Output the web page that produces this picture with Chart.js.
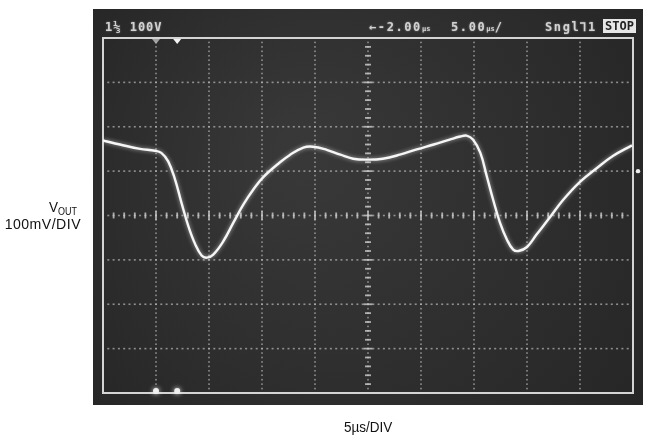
<!DOCTYPE html>
<html>
<head>
<meta charset="utf-8">
<script src="https://cdn.jsdelivr.net/npm/chart.js@4.4.1/dist/chart.umd.min.js"></script>
<style>
  body { margin: 0; background: #fff; }
  .scope { position: relative; width: 651px; height: 446px; }
  .lbl { position: absolute; font-family: 'Liberation Sans', Arial, sans-serif; color: #111; font-size: 15px; line-height: 16px; white-space: nowrap; }
  .osd { position: absolute; font-family: 'DejaVu Sans Mono', monospace; font-weight: bold; font-size: 12px; line-height: 14px; letter-spacing: 1.6px; color: #d2d2d2; white-space: nowrap; text-shadow: 0 0 2px rgba(255,255,255,0.45); }
  .osd small { font-size: 7px; letter-spacing: 0; }
</style>
</head>
<body>
<div class="scope">
  <canvas id="scope" width="651" height="446"></canvas>

  <div class="lbl" style="left:0; width:77px; top:199px; text-align:right; transform:scaleX(0.9); transform-origin:right;">V<span style="font-size:10px; position:relative; top:3px;">OUT</span></div>
  <div class="lbl" style="left:0; width:78px; top:216px; text-align:right; letter-spacing:0.5px; transform:scaleX(0.94); transform-origin:right;">100mV/DIV</div>
  <div class="lbl" style="left:344px; top:419px; transform:scaleX(0.9); transform-origin:left;">5µs/DIV</div>

  <div class="osd" style="left:105px; top:20px; letter-spacing:1px;">1⅓ 100V</div>
  <div class="osd" style="left:369px; top:20px;">←-2.00<small>µs</small></div>
  <div class="osd" style="left:451px; top:20px;">5.00<small>µs</small>/</div>
  <div class="osd" style="left:545px; top:20px;">Sngl⅂1</div>
  <div class="osd" style="left:603px; top:19px; background:#e6e6e6; color:#222; letter-spacing:0; padding:0 2px; text-shadow:none;">STOP</div>
</div>
<script>
// trace: time in µs (5µs/div), output in mV (100mV/div)
const timeUs = [0, 1.6, 3.5, 4.9, 5.5, 6.15, 6.8, 7.4, 8.05, 8.7, 9.3, 9.8, 10.4, 11.35, 12.3, 13.25,
  14.2, 15.1, 16.7, 17.6, 18.9, 19.8, 21.1, 22.4, 23.6, 25.0, 26.4, 28.0, 29.6, 31.2, 32.7, 33.7,
  34.3, 34.9, 35.6, 36.2, 36.8, 37.45, 38.1, 38.7, 39.2, 40.0, 40.9, 42.2, 43.4, 45.0, 46.6, 48.1, 49.9];
const voutMv = [169, 160, 150, 146, 141, 122, 81, 29, -24, -65, -90, -95, -88, -58, -16, 25,
  59, 86, 120, 136, 153, 155, 148, 137, 128, 126, 128, 137, 149, 160, 171, 178,
  180, 171, 141, 89, 36, -16, -54, -77, -80, -71, -43, -3, 35, 76, 107, 134, 158];

// graticule
const xDivUs = [0, 5, 10, 15, 20, 25, 30, 35, 40, 45, 50];
const yDivMv = [-400, -300, -200, -100, 0, 100, 200, 300, 400];
// markers on the screen edges
const cursorUs = [5.0, 7.0];
const trigLevelMv = 100;

const scopeScreen = {
  id: 'scopeScreen',
  beforeDraw(chart) {
    const { ctx, chartArea: a, scales: { x, y } } = chart;
    ctx.save();
    const g = ctx.createRadialGradient(300, 150, 20, 368, 215, 380);
    g.addColorStop(0, '#383838');
    g.addColorStop(1, '#242424');
    ctx.fillStyle = g;
    ctx.fillRect(a.left - 10, a.top - 29, a.width + 20, a.height + 41);

    const x0 = x.getPixelForValue(25), y0 = y.getPixelForValue(0);
    ctx.fillStyle = 'rgba(185,185,185,0.7)';
    // vertical dotted lines
    xDivUs.slice(1, -1).forEach(t => {
      const px = x.getPixelForValue(t);
      for (let v = -400; v <= 400; v += 10) {
        ctx.fillRect(px - 0.8, y.getPixelForValue(v) - 0.8, 1.6, 1.6);
      }
    });
    // horizontal dotted lines
    yDivMv.slice(1, -1).forEach(v => {
      const py = y.getPixelForValue(v);
      for (let t = 0; t <= 50; t += 0.5) {
        ctx.fillRect(x.getPixelForValue(t) - 1, py - 0.8, 2, 1.6);
      }
    });
    // center axes with minor ticks
    ctx.fillStyle = 'rgba(205,205,205,0.8)';
    for (let t = 0; t <= 50; t += 1) {
      const h = t % 5 === 0 ? 9 : 6;
      ctx.fillRect(x.getPixelForValue(t) - 0.9, y0 - h / 2, 1.8, h);
    }
    for (let v = -400; v <= 400; v += 20) {
      const w = v % 100 === 0 ? 9 : 6;
      ctx.fillRect(x0 - w / 2, y.getPixelForValue(v) - 0.9, w, 1.8);
    }
    // frame
    ctx.strokeStyle = '#d4d4d4';
    ctx.lineWidth = 2;
    ctx.strokeRect(a.left, a.top, a.width, a.height);
    ctx.restore();
  },
  beforeDatasetsDraw(chart) {
    chart.ctx.save();
    chart.ctx.shadowColor = 'rgba(255,255,255,0.6)';
    chart.ctx.shadowBlur = 4;
  },
  afterDatasetsDraw(chart) {
    const { ctx, chartArea: a, scales: { x, y } } = chart;
    ctx.restore();
    ctx.save();
    cursorUs.forEach((t, i) => {
      const px = x.getPixelForValue(t);
      ctx.fillStyle = i === 0 ? 'rgba(190,190,190,0.8)' : '#f4f4f4';
      ctx.beginPath();
      ctx.moveTo(px - 4, a.top + 1);
      ctx.lineTo(px + 4, a.top + 1);
      ctx.lineTo(px, a.top + 6);
      ctx.closePath();
      ctx.fill();
      ctx.shadowColor = 'rgba(255,255,255,0.9)';
      ctx.shadowBlur = 5;
      ctx.fillStyle = '#f0f0f0';
      ctx.beginPath();
      ctx.arc(px, a.bottom - 2, 3, 0, Math.PI * 2);
      ctx.fill();
      ctx.shadowBlur = 0;
    });
    ctx.fillStyle = '#eeeeee';
    ctx.beginPath();
    ctx.arc(a.right + 5, y.getPixelForValue(trigLevelMv), 2.2, 0, Math.PI * 2);
    ctx.fill();
    ctx.restore();
  }
};

new Chart(document.getElementById('scope'), {
  type: 'line',
  data: {
    datasets: [{
      data: timeUs.map((t, i) => ({ x: t, y: voutMv[i] })),
      borderColor: '#f6f6f6',
      borderWidth: 2.4,
      pointRadius: 0,
      tension: 0.4
    }]
  },
  options: {
    responsive: false,
    animation: false,
    layout: { padding: { left: 103, right: 18, top: 38, bottom: 53 } },
    plugins: { legend: { display: false }, tooltip: { enabled: false } },
    scales: {
      x: { type: 'linear', min: 0, max: 50, display: false },
      y: { min: -400, max: 400, display: false }
    }
  },
  plugins: [scopeScreen]
});
</script>
</body>
</html>
